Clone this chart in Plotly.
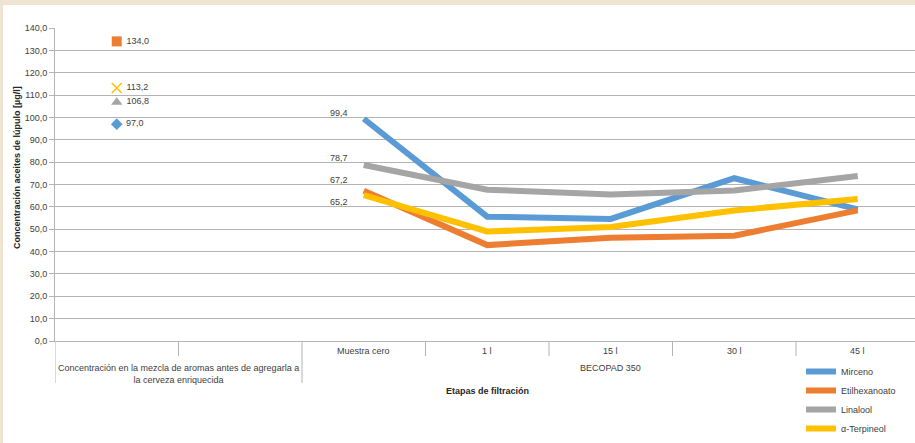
import plotly.graph_objects as go

# ---------------- data ----------------
categories = ["", "", "Muestra cero", "1 l", "15 l", "30 l", "45 l"]
group_labels = ["Concentración en la mezcla de aromas antes de agregarla a<br>la cerveza enriquecida",
                "BECOPAD 350"]
group_sizes = [2, 5]

series_names = ["Mirceno", "Etilhexanoato", "Linalool", "α-Terpineol"]
mix_values = [97.0, 134.0, 106.8, 113.2]            # concentration in the aroma mix
mirceno = [99.4, 55.6, 54.6, 72.8, 58.9]
etilhexanoato = [67.2, 42.9, 46.2, 47.1, 58.4]
linalool = [78.7, 67.7, 65.5, 67.3, 73.8]
terpineol = [65.2, 49.0, 51.0, 58.4, 63.5]
filtration_values = [mirceno, etilhexanoato, linalool, terpineol]

y_ticks = [0, 10, 20, 30, 40, 50, 60, 70, 80, 90, 100, 110, 120, 130, 140]

# ---------------- style ----------------
colors = ["#5B9BD5", "#ED7D31", "#A5A5A5", "#FFC000"]
mix_symbols = ["diamond", "square", "triangle-up", "x-thin-open"]
mix_sizes = [9, 10, 10, 10]
label_yshift = [6, 11, 7, -7]
FONT = "Liberation Sans, Arial, sans-serif"
TXT = "#404040"
GRID = "#B4B4B4"
W, H = 915, 443
ML, MR, MT, MB = 55, 0, 28, 102
PW, PH = W - ML - MR, H - MT - MB
CAT_PX = 123.5


def fmt(v):
    return f"{v:.1f}".replace(".", ",")


def px_x(px):
    return (px - ML) / PW


def px_y(py):
    return (H - MB - py) / PH


fig = go.Figure()

stage_x = list(range(2, len(categories)))

for i, name in enumerate(series_names):
    fig.add_trace(go.Scatter(
        x=stage_x, y=filtration_values[i], mode="lines", name=name,
        line=dict(color=colors[i], width=6), showlegend=True,
        hoverinfo="x+y+name"))

for i, name in enumerate(series_names):
    sym = mix_symbols[i]
    marker = dict(symbol=sym, size=mix_sizes[i], color=colors[i])
    if sym.startswith("x-thin"):
        marker["line"] = dict(color=colors[i], width=1.5)
    fig.add_trace(go.Scatter(
        x=[0], y=[mix_values[i]], mode="markers+text", name=name,
        marker=marker, text=[" " + fmt(mix_values[i])], textposition="middle right",
        textfont=dict(family=FONT, size=9, color=TXT), showlegend=False))

annotations = []
# value labels at first filtration stage
for i in range(len(series_names)):
    annotations.append(dict(
        x=stage_x[0], y=filtration_values[i][0], xref="x", yref="y",
        text=fmt(filtration_values[i][0]), showarrow=False,
        xanchor="right", yanchor="middle", xshift=-14, yshift=label_yshift[i],
        font=dict(family=FONT, size=9, color=TXT)))

# first-row category labels
for i, c in enumerate(categories):
    if c:
        annotations.append(dict(
            x=i, y=px_y(351), xref="x", yref="paper", text=c, showarrow=False,
            xanchor="center", yanchor="middle",
            font=dict(family=FONT, size=9, color=TXT)))

shapes = []
# inner separators
start = 0
group_bounds = []
for g, size in enumerate(group_sizes):
    group_bounds.append(start - 0.5)
    for k in range(start, start + size - 1):
        shapes.append(dict(type="line", xref="x", yref="paper",
                           x0=k + 0.5, x1=k + 0.5, y0=0, y1=px_y(356),
                           line=dict(color=GRID, width=1)))
    center = start + (size - 1) / 2
    annotations.append(dict(
        x=center, y=px_y(361), xref="x", yref="paper", text=group_labels[g],
        showarrow=False, xanchor="center", yanchor="top", align="center",
        font=dict(family=FONT, size=9, color=TXT)))
    start += size
for b in group_bounds:
    shapes.append(dict(type="line", xref="x", yref="paper",
                       x0=b, x1=b, y0=0, y1=px_y(383),
                       line=dict(color=GRID, width=1)))

# axis titles
annotations.append(dict(
    x=px_x(487), y=px_y(391), xref="paper", yref="paper",
    text="<b>Etapas de filtración</b>", showarrow=False,
    xanchor="center", yanchor="middle",
    font=dict(family=FONT, size=9, color="#262626")))
annotations.append(dict(
    x=px_x(17), y=px_y(168), xref="paper", yref="paper",
    text="<b>Concentración aceites de lúpulo [µg/l]</b>", showarrow=False,
    textangle=-90, xanchor="center", yanchor="middle",
    font=dict(family=FONT, size=9, color="#262626")))

# beige frame bands
BEIGE = "#EFE4D2"
shapes.append(dict(type="rect", xref="paper", yref="paper", layer="below",
                   x0=px_x(0), x1=px_x(W), y0=px_y(5), y1=px_y(0),
                   fillcolor=BEIGE, line=dict(width=0)))
shapes.append(dict(type="rect", xref="paper", yref="paper", layer="below",
                   x0=px_x(0), x1=px_x(3), y0=px_y(H), y1=px_y(0),
                   fillcolor=BEIGE, line=dict(width=0)))

x_max = -0.5 + PW / CAT_PX

fig.update_layout(
    width=W, height=H,
    margin=dict(l=ML, r=MR, t=MT, b=MB, pad=0, autoexpand=False),
    paper_bgcolor="white", plot_bgcolor="white",
    separators=",.",
    font=dict(family=FONT, size=9, color=TXT),
    xaxis=dict(range=[-0.5, x_max], showgrid=False, zeroline=False,
               showticklabels=False, ticks="", showline=True,
               linecolor=GRID, linewidth=1, fixedrange=True),
    yaxis=dict(range=[0, 140], tickvals=y_ticks, tickformat=".1f",
               showgrid=True, gridcolor=GRID, gridwidth=1.2,
               zeroline=False, showline=True, linecolor=GRID, linewidth=1,
               ticks="outside", ticklen=5, tickcolor=GRID,
               tickfont=dict(family=FONT, size=9, color=TXT), fixedrange=True),
    legend=dict(x=px_x(801), y=px_y(400), xanchor="left", yanchor="middle",
                bgcolor="rgba(0,0,0,0)", font=dict(family=FONT, size=9, color=TXT),
                itemwidth=30, tracegroupgap=0),
    annotations=annotations, shapes=shapes,
    showlegend=True,
)

fig.write_html("out.html")
